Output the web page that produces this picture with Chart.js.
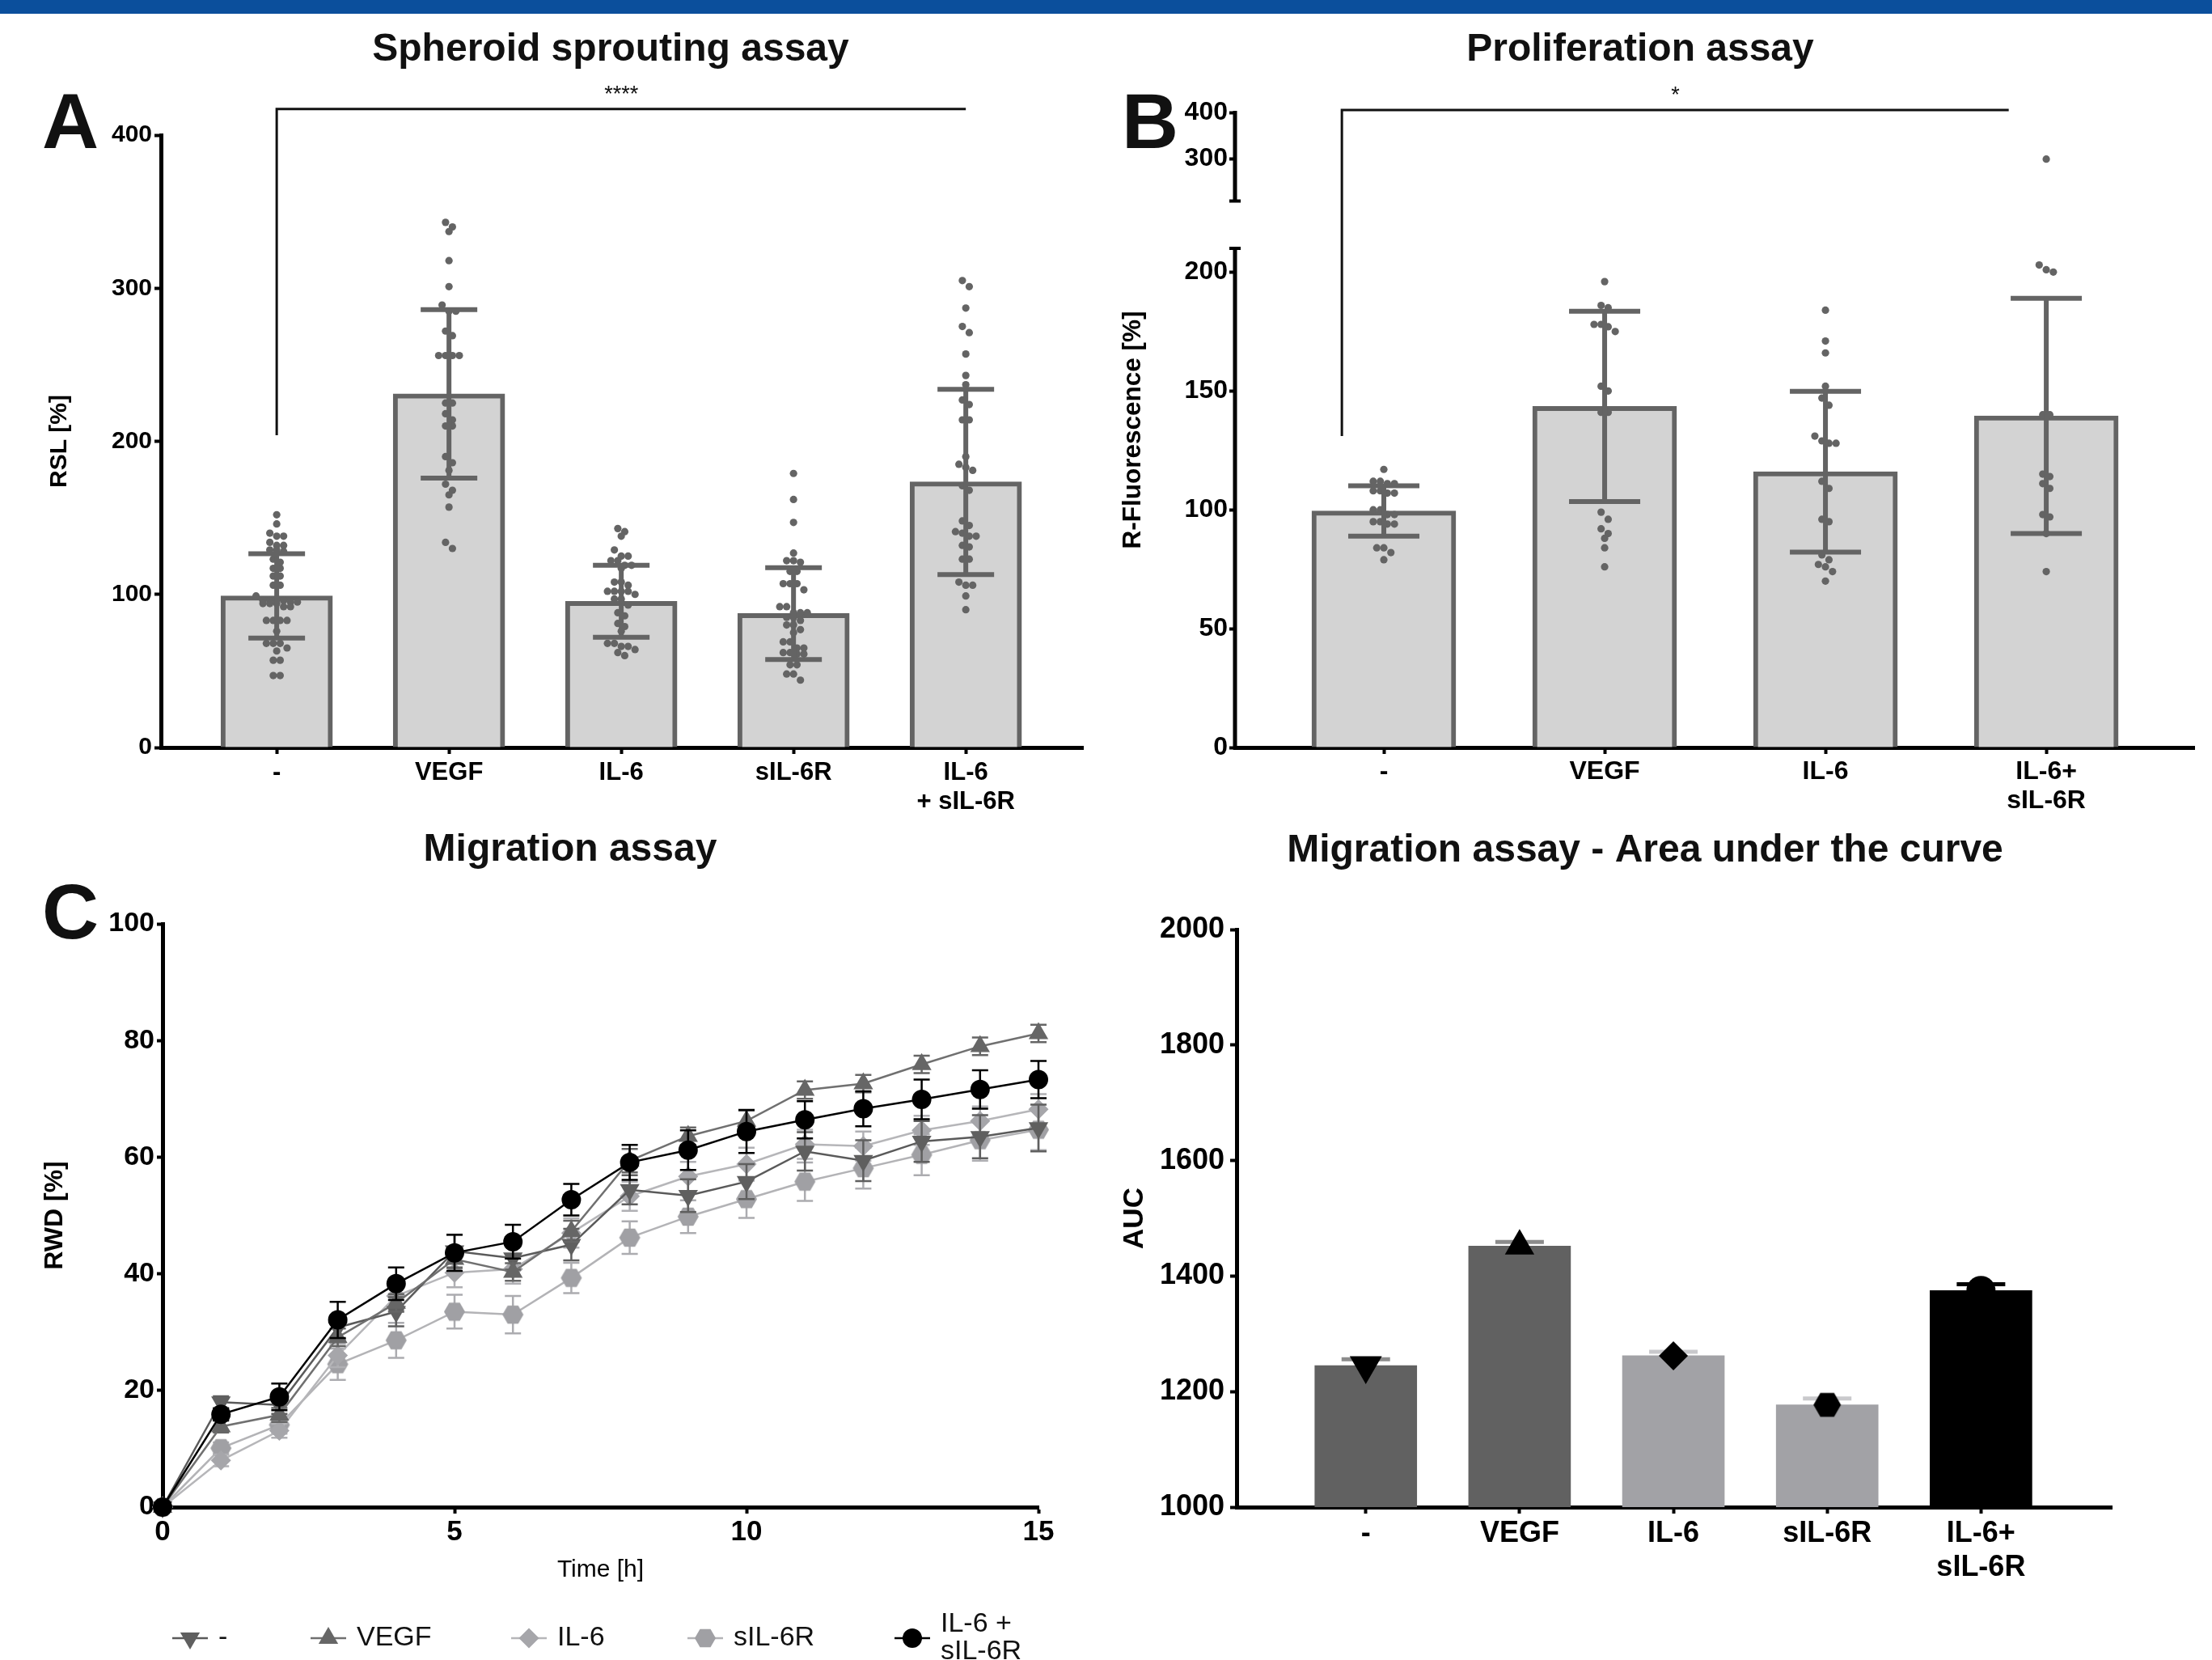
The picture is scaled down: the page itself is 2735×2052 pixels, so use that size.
<!DOCTYPE html>
<html>
<head>
<meta charset="utf-8">
<title>Spheroid sprouting, proliferation and migration assays</title>
<script src="https://cdn.jsdelivr.net/npm/chart.js@4.4.1/dist/chart.umd.min.js"></script>
<style>
  html, body { margin: 0; padding: 0; background: #fff; }
  body { width: 2735px; height: 2052px; position: relative; overflow: hidden; }
  #banner { position: absolute; left: 0; top: 0; width: 2735px; height: 17px; background: #0b4f9c; }
  canvas { position: absolute; }
</style>
</head>
<body>
<div id="banner"></div>
<canvas id="chartA" width="1370" height="1030" style="left:0;top:0"></canvas>
<canvas id="chartB" width="1365" height="1030" style="left:1370px;top:0"></canvas>
<canvas id="chartC" width="1370" height="1022" style="left:0;top:1030px"></canvas>
<canvas id="chartD" width="1365" height="1022" style="left:1370px;top:1030px"></canvas>
<script>
// ---------- data ----------
// A: spheroid sprouting (RSL %)
const catsA = ['-', 'VEGF', 'IL-6', 'sIL-6R', ['IL-6', '+ sIL-6R']];
const meanA = [99, 231, 95.5, 87.5, 173.5];
const sdA = [27.5, 55, 23.5, 30, 60.5];
const rslCtrl = [152, 146, 140, 138, 138, 134, 132, 132, 129, 129, 128, 123, 121, 117, 117, 112, 112, 106, 106, 99, 96, 96, 96, 96, 95, 95, 94, 94, 94, 92, 92, 83, 83, 83, 83, 76, 68, 68, 68, 65, 63, 57, 57, 47, 47];
const rslVEGF = [343, 340, 337, 318, 301, 289, 285, 285, 272, 269, 256, 256, 256, 256, 225, 225, 218, 214, 210, 210, 190, 186, 181, 172, 168, 165, 157, 134, 130];
const rslIL6 = [143, 141, 138, 129, 125, 125, 122, 122, 119, 119, 117, 108, 108, 106, 102, 102, 102, 102, 100, 97, 97, 93, 88, 86, 81, 79, 76, 68, 68, 66, 66, 64, 62, 60];
const rslSIL6R = [179, 162, 147, 127, 122, 122, 121, 115, 115, 107, 107, 107, 103, 92, 92, 88, 88, 88, 85, 85, 83, 80, 80, 77, 75, 69, 69, 65, 65, 62, 62, 61, 61, 54, 54, 48, 48, 44];
const rslCombo = [305, 301, 287, 275, 271, 257, 243, 237, 227, 224, 214, 214, 190, 185, 183, 181, 171, 168, 148, 145, 141, 140, 138, 138, 132, 131, 123, 123, 108, 106, 106, 99, 90];

// B: proliferation (R-Fluorescence %)
const catsB = ['-', 'VEGF', 'IL-6', ['IL-6+', 'sIL-6R']];
const meanB = [99.5, 143.5, 116, 139.5];
const sdB = [10.6, 40, 33.8, 49.5];
const fluoCtrl = [117, 112, 112, 111, 111, 108, 108, 107, 107, 100, 100, 98, 98, 95, 95, 94, 94, 84, 84, 82, 79];
const fluoVEGF = [196, 186, 185, 178, 178, 177, 175, 152, 150, 141, 141, 99, 96, 92, 90, 88, 84, 76];
const fluoIL6 = [184, 171, 166, 152, 147, 144, 131, 129, 128, 128, 112, 109, 96, 95, 81, 79, 77, 76, 74, 70];
const fluoCombo = [300, 203, 201, 200, 140, 140, 115, 114, 111, 109, 98, 97, 90, 74];

// C: migration (RWD %) over time
const timeH = [0, 1, 2, 3, 4, 5, 6, 7, 8, 9, 10, 11, 12, 13, 14, 15];
const migCtrl = [0, 18.0, 17.5, 30.8, 33.5, 43.9, 42.7, 45.0, 54.4, 53.4, 55.8, 61.0, 59.4, 62.7, 63.5, 65.0];
const migVEGF = [0, 13.8, 15.8, 29.1, 35.0, 42.5, 40.3, 47.3, 59.4, 63.6, 66.2, 71.5, 72.6, 75.9, 79.0, 81.2];
const migIL6 = [0, 8.0, 13.1, 26.0, 36.2, 40.2, 40.8, 47.0, 53.3, 56.7, 58.8, 62.2, 61.9, 64.6, 66.2, 68.2];
const migSIL6R = [0, 10.1, 14.1, 24.5, 28.6, 33.5, 33.0, 39.3, 46.2, 49.8, 52.8, 55.8, 58.1, 60.4, 62.9, 64.7];
const migCombo = [0, 15.9, 18.9, 32.1, 38.3, 43.6, 45.5, 52.7, 59.1, 61.2, 64.4, 66.4, 68.3, 69.9, 71.6, 73.3];
const semCtrl = [0, 1.0, 1.5, 2.0, 2.5, 2.8, 2.0, 2.7, 2.5, 2.8, 3.0, 3.3, 3.5, 3.5, 3.7, 4.0];
const semVEGF = [0, 1.0, 1.2, 1.5, 1.5, 1.5, 1.5, 1.8, 2.0, 1.5, 1.8, 1.5, 1.5, 1.5, 1.5, 1.5];
const semIL6 = [0, 1.0, 1.2, 2.0, 2.5, 2.5, 2.5, 2.5, 2.5, 2.5, 2.8, 2.5, 2.5, 2.5, 2.5, 2.6];
const semSIL6R = [0, 1.0, 1.5, 2.7, 3.0, 2.9, 3.2, 2.6, 2.8, 2.8, 3.2, 3.3, 3.5, 3.5, 3.5, 3.5];
const semCombo = [0, 1.0, 2.3, 3.1, 2.8, 3.1, 2.9, 2.7, 3.0, 3.4, 3.7, 3.2, 3.0, 3.4, 3.3, 3.2];

// D: area under the migration curve
const catsD = ['-', 'VEGF', 'IL-6', 'sIL-6R', ['IL-6+', 'sIL-6R']];
const aucD = [1245, 1452, 1262, 1177, 1375];
const semD = [11, 7, 7, 11, 11];

// ---------- helpers ----------
const FONT = "'Liberation Sans', Arial, Helvetica, sans-serif";

// spread dots of similar value sideways (scatter dot plot)
function swarm(values, center, tol, step) {
  const sorted = values.slice().sort((a, b) => b - a);
  const out = [];
  let row = [];
  const flush = () => {
    row.forEach((v, k) => out.push({ x: center + (k - (row.length - 1) / 2) * step, y: v }));
    row = [];
  };
  sorted.forEach(v => {
    if (row.length && row[0] - v > tol) flush();
    row.push(v);
  });
  flush();
  return out;
}

function hexagon(r, color) {
  const c = document.createElement('canvas');
  c.width = c.height = 2 * r + 2;
  const g = c.getContext('2d');
  g.fillStyle = color;
  g.beginPath();
  for (let k = 0; k < 6; k++) {
    const a = k * Math.PI / 3;
    g.lineTo(r + 1 + r * Math.cos(a), r + 1 + r * Math.sin(a));
  }
  g.closePath();
  g.fill();
  return c;
}

function axis(o) {
  const ticks = {
    color: '#000',
    font: { family: FONT, size: o.size, weight: 'bold', lineHeight: o.lh || 1.15 },
    padding: o.pad, autoSkip: false, maxRotation: 0, minRotation: 0,
    callback: o.callback || (v => String(v))
  };
  if (o.step) ticks.stepSize = o.step;
  const a = {
    min: o.min, max: o.max, offset: false,
    border: { display: o.border !== false, color: '#000', width: 5 },
    grid: { display: true, drawOnChartArea: false, drawTicks: true, tickLength: o.tick || 8, tickWidth: 4, tickColor: '#000', offset: false },
    ticks: ticks
  };
  if (o.type) a.type = o.type;
  if (o.fixed) a.afterBuildTicks = s => { s.ticks = o.fixed.map(v => ({ value: v })); };
  if (o.width) a.afterFit = s => { s.width = o.width; };
  if (o.height) a.afterFit = s => { s.height = o.height; };
  if (o.title) a.title = { display: true, text: o.title, color: '#000', font: { family: FONT, size: o.titleSize, weight: o.titleWeight || 'bold' }, padding: o.titlePad };
  return a;
}

// y axis with a gap (panel B)
class BrokenScale extends Chart.LinearScale {
  _frac(v) {
    const b = this.options.brk;
    if (v <= b.at) return (v - this.min) / (b.at - this.min) * b.lowFrac;
    return b.highFrac + (v - b.at) / (this.max - b.at) * (1 - b.highFrac);
  }
  getPixelForValue(v) { return this.getPixelForDecimal(this._frac(v)); }
  getValueForPixel(p) {
    const b = this.options.brk, f = this.getDecimalForPixel(p);
    if (f <= b.lowFrac) return this.min + f / b.lowFrac * (b.at - this.min);
    return b.at + (f - b.highFrac) / (1 - b.highFrac) * (this.max - b.at);
  }
}
BrokenScale.id = 'broken';
BrokenScale.defaults = Chart.LinearScale.defaults;
Chart.register(BrokenScale);

function drawErr(chart, index, phase) {
  const ds = chart.data.datasets[index];
  const e = ds.err;
  if (!e || e.phase !== phase) return;
  const meta = chart.getDatasetMeta(index);
  const ys = chart.scales[meta.yAxisID];
  const ctx = chart.ctx;
  ctx.save();
  ctx.lineWidth = e.width;
  meta.data.forEach((el, i) => {
    const v = meta.controller.getParsed(i).y, d = e.values[i];
    if (!d) return;
    const hi = ys.getPixelForValue(v + d);
    const lo = ys.getPixelForValue(e.up ? v : v - d);
    ctx.strokeStyle = Array.isArray(e.color) ? e.color[i] : e.color;
    ctx.beginPath();
    ctx.moveTo(el.x, lo); ctx.lineTo(el.x, hi);
    ctx.moveTo(el.x - e.cap, hi); ctx.lineTo(el.x + e.cap, hi);
    if (!e.up) { ctx.moveTo(el.x - e.cap, lo); ctx.lineTo(el.x + e.cap, lo); }
    ctx.stroke();
  });
  ctx.restore();
}

const errorBars = {
  id: 'errorBars',
  beforeDatasetDraw(chart, args) { drawErr(chart, args.index, 'before'); },
  afterDatasetDraw(chart, args) { drawErr(chart, args.index, 'after'); },
  afterDatasetsDraw(chart) { chart.data.datasets.forEach((d, i) => drawErr(chart, i, 'top')); }
};

const bracket = {
  id: 'bracket',
  afterDraw(chart, args, o) {
    if (o.x0 === undefined) return;
    const x = chart.scales.x, y = chart.scales.y, ctx = chart.ctx;
    const xl = x.getPixelForValue(o.x0), xr = x.getPixelForValue(o.x1);
    const yl = y.getPixelForValue(o.yLow), yt = y.getPixelForValue(o.yTop);
    ctx.save();
    ctx.strokeStyle = '#111';
    ctx.lineWidth = 3;
    ctx.beginPath();
    ctx.moveTo(xl, yl); ctx.lineTo(xl, yt); ctx.lineTo(xr, yt);
    ctx.stroke();
    ctx.fillStyle = '#111';
    ctx.font = '27px ' + FONT;
    ctx.textAlign = 'center';
    ctx.textBaseline = 'alphabetic';
    ctx.fillText(o.text, (xl + xr) / 2, yt - 10);
    ctx.restore();
  }
};

const brokenAxis = {
  id: 'brokenAxis',
  afterDraw(chart) {
    const y = chart.scales.y;
    if (y.type !== 'broken') return;
    const b = y.options.brk, ctx = chart.ctx, x = chart.chartArea.left;
    const lowTop = y.getPixelForDecimal(b.lowFrac), highBot = y.getPixelForDecimal(b.highFrac);
    ctx.save();
    ctx.strokeStyle = '#000';
    ctx.lineWidth = 5;
    ctx.beginPath();
    ctx.moveTo(x, y.bottom + 2.5); ctx.lineTo(x, lowTop);
    ctx.moveTo(x, highBot); ctx.lineTo(x, y.top - 2);
    ctx.stroke();
    ctx.lineWidth = 4;
    ctx.beginPath();
    ctx.moveTo(x - 7, lowTop); ctx.lineTo(x + 7, lowTop);
    ctx.moveTo(x - 7, highBot); ctx.lineTo(x + 7, highBot);
    ctx.stroke();
    ctx.restore();
  }
};

const panelText = {
  id: 'panelText',
  afterDraw(chart, args, o) {
    const ctx = chart.ctx;
    (o.items || []).forEach(t => {
      ctx.save();
      ctx.fillStyle = '#111';
      ctx.font = 'bold ' + t.size + 'px ' + FONT;
      ctx.textAlign = t.align;
      ctx.textBaseline = 'alphabetic';
      ctx.fillText(t.text, t.x, t.y);
      ctx.restore();
    });
  }
};

const lineLegend = {
  id: 'lineLegend',
  afterDraw(chart, args, o) {
    if (!o.xs) return;
    const ctx = chart.ctx;
    chart.data.datasets.forEach((ds, i) => {
      const mx = o.xs[i], my = o.y;
      ctx.save();
      ctx.strokeStyle = ds.borderColor;
      ctx.lineWidth = ds.borderWidth;
      ctx.beginPath(); ctx.moveTo(mx - 22, my); ctx.lineTo(mx + 22, my); ctx.stroke();
      ctx.fillStyle = ds.pointBackgroundColor;
      Chart.helpers.drawPoint(ctx, { pointStyle: ds.pointStyle, rotation: ds.pointRotation || 0, radius: ds.pointRadius, borderWidth: 0 }, mx, my);
      ctx.fillStyle = '#111';
      ctx.font = '34px ' + FONT;
      ctx.textAlign = 'left';
      ctx.textBaseline = 'middle';
      const lines = [].concat(ds.legendText || ds.label);
      lines.forEach((t, k) => ctx.fillText(t, mx + 35, my + (k - (lines.length - 1) / 2) * 34));
      ctx.restore();
    });
  }
};

const base = { responsive: false, animation: false, devicePixelRatio: 1, events: [] };
const quiet = { legend: { display: false }, tooltip: { enabled: false } };

// ---------- A ----------
const dotsA = [rslCtrl, rslVEGF, rslIL6, rslSIL6R, rslCombo];
new Chart(document.getElementById('chartA'), {
  type: 'bar',
  data: {
    datasets: [
      { type: 'bar', data: meanA.map((m, i) => ({ x: i, y: m })), backgroundColor: '#d3d3d3', borderColor: '#646464', borderWidth: 6, barThickness: 138, order: 3,
        err: { values: sdA, color: '#646464', width: 6, cap: 35, phase: 'top' } },
      { type: 'scatter', data: dotsA.flatMap((g, i) => swarm(g, i, 4.8, 0.04)), pointRadius: 4.6, pointBackgroundColor: '#646464', pointBorderWidth: 0, order: 2 }
    ]
  },
  options: Object.assign({}, base, {
    layout: { padding: { left: 0, top: 167, right: 31, bottom: 6 } },
    plugins: Object.assign({}, quiet, {
      bracket: { x0: 0, x1: 4, yLow: 204, yTop: 417, text: '****' },
      panelText: { items: [
        { text: 'Spheroid sprouting assay', x: 755, y: 75, size: 48, align: 'center' },
        { text: 'A', x: 52, y: 183, size: 97, align: 'left' }
      ] }
    }),
    scales: {
      x: axis({ type: 'linear', min: -0.672, max: 4.68, size: 31, lh: 1.15, pad: 6, fixed: [0, 1, 2, 3, 4], callback: v => catsA[v], height: 100 }),
      y: axis({ min: 0, max: 400, step: 100, size: 30, pad: 3, width: 199, title: 'RSL [%]', titleSize: 30, titlePad: { top: 56, bottom: 0 } })
    }
  }),
  plugins: [errorBars, bracket, panelText]
});

// ---------- B ----------
const dotsB = [fluoCtrl, fluoVEGF, fluoIL6, fluoCombo];
const yB = axis({ type: 'broken', min: 0, max: 400, size: 32, pad: 2, tick: 7, border: false, fixed: [0, 50, 100, 150, 200, 300, 400], width: 157,
  title: 'R-Fluorescence [%]', titleSize: 31.5, titlePad: { top: 12, bottom: 0 } });
yB.brk = { at: 210, lowFrac: 0.786, highFrac: 0.8605 };
new Chart(document.getElementById('chartB'), {
  type: 'bar',
  data: {
    datasets: [
      { type: 'bar', data: meanB.map((m, i) => ({ x: i, y: m })), backgroundColor: '#d3d3d3', borderColor: '#646464', borderWidth: 6, barThickness: 178, order: 3,
        err: { values: sdB, color: '#646464', width: 6, cap: 44, phase: 'top' } },
      { type: 'scatter', data: dotsB.flatMap((g, i) => swarm(g, i, 3, 0.032)), pointRadius: 4.6, pointBackgroundColor: '#646464', pointBorderWidth: 0, order: 2 }
    ]
  },
  options: Object.assign({}, base, {
    layout: { padding: { left: 0, top: 139, right: 22, bottom: 6 } },
    plugins: Object.assign({}, quiet, {
      bracket: { x0: -0.19, x1: 2.83, yLow: 131, yTop: 405, text: '*' },
      panelText: { items: [
        { text: 'Proliferation assay', x: 658, y: 75, size: 48, align: 'center' },
        { text: 'B', x: 17, y: 183, size: 97, align: 'left' }
      ] }
    }),
    scales: {
      x: axis({ type: 'linear', min: -0.674, max: 3.67, size: 32, lh: 1.12, pad: 4, fixed: [0, 1, 2, 3], callback: v => catsB[v], height: 100 }),
      y: yB
    }
  }),
  plugins: [errorBars, bracket, brokenAxis, panelText]
});

// ---------- C ----------
const hexC = hexagon(13, '#a0a0a4');
const series = [
  { label: '-', values: migCtrl, sem: semCtrl, line: '#5a5a5a', mark: '#5f5f5f', err: '#5f5f5f', style: 'triangle', rot: 180, r: 14, order: 3 },
  { label: 'VEGF', values: migVEGF, sem: semVEGF, line: '#707070', mark: '#666666', err: '#666666', style: 'triangle', rot: 0, r: 14, order: 2 },
  { label: 'IL-6', values: migIL6, sem: semIL6, line: '#b6b6b9', mark: '#a6a6aa', err: '#b0b0b4', style: 'rectRot', rot: 0, r: 12.5, order: 4 },
  { label: 'sIL-6R', values: migSIL6R, sem: semSIL6R, line: '#b3b3b6', mark: '#a0a0a4', err: '#acacb0', style: hexC, rot: 0, r: 13, order: 5 },
  { label: 'IL-6 + sIL-6R', text: ['IL-6 +', 'sIL-6R'], values: migCombo, sem: semCombo, line: '#000', mark: '#000', err: '#000', style: 'circle', rot: 0, r: 12, order: 1 }
];
new Chart(document.getElementById('chartC'), {
  type: 'line',
  data: {
    datasets: series.map(s => ({
      label: s.label, legendText: s.text,
      data: timeH.map((t, i) => ({ x: t, y: s.values[i] })),
      borderColor: s.line, borderWidth: 2.5,
      pointStyle: s.style, pointRotation: s.rot, pointRadius: s.r,
      pointBackgroundColor: s.mark, pointBorderColor: s.mark, pointBorderWidth: 0,
      clip: false, order: s.order,
      err: { values: s.sem, color: s.err, width: 2.5, cap: 10, phase: 'before' }
    }))
  },
  options: Object.assign({}, base, {
    layout: { padding: { left: 0, top: 112, right: 86, bottom: 69 } },
    plugins: Object.assign({}, quiet, {
      lineLegend: { xs: [235, 406, 654, 872, 1128], y: 995 },
      panelText: { items: [
        { text: 'Migration assay', x: 705, y: 34, size: 48, align: 'center' },
        { text: 'C', x: 52, y: 130, size: 97, align: 'left' }
      ] }
    }),
    scales: {
      x: axis({ type: 'linear', min: 0, max: 15, step: 5, size: 35, lh: 1.2, pad: 2, tick: 8, height: 120,
        title: 'Time [h]', titleSize: 30, titleWeight: 'normal', titlePad: { top: 0, bottom: 24 } }),
      y: axis({ min: 0, max: 100, step: 20, size: 34, pad: 3, tick: 7, width: 201, title: 'RWD [%]', titleSize: 32, titlePad: { top: 49, bottom: 0 } })
    }
  }),
  plugins: [errorBars, lineLegend, panelText]
});

// ---------- D ----------
const hexD = hexagon(17, '#000');
new Chart(document.getElementById('chartD'), {
  type: 'bar',
  data: {
    datasets: [
      { type: 'bar', data: aucD.map((v, i) => ({ x: i, y: v })), backgroundColor: ['#616161', '#616161', '#a2a2a6', '#a2a2a6', '#000'], borderWidth: 0, barThickness: 126, order: 2,
        err: { values: semD, color: ['#8c8c8c', '#8c8c8c', '#c9c9cc', '#c9c9cc', '#000'], width: 5, cap: 30, up: true, phase: 'after' } },
      { type: 'scatter', data: aucD.map((v, i) => ({ x: i, y: v })), pointStyle: ['triangle', 'triangle', 'rectRot', hexD, 'circle'], pointRotation: [180, 0, 0, 0, 0],
        pointRadius: [23, 21, 18, 17, 18], pointBackgroundColor: '#000', pointBorderWidth: 0, clip: false, order: 1 }
    ]
  },
  options: Object.assign({}, base, {
    layout: { padding: { left: 0, top: 119, right: 124, bottom: 79 } },
    plugins: Object.assign({}, quiet, {
      panelText: { items: [
        { text: 'Migration assay - Area under the curve', x: 664, y: 35, size: 48, align: 'center' }
      ] }
    }),
    scales: {
      x: axis({ type: 'linear', min: -0.84, max: 4.85, size: 36, lh: 1.16, pad: 4, fixed: [0, 1, 2, 3, 4], callback: v => catsD[v], height: 110 }),
      y: axis({ min: 1000, max: 2000, step: 200, size: 36, pad: 7, width: 159, title: 'AUC', titleSize: 35, titlePad: { top: 12, bottom: 0 } })
    }
  }),
  plugins: [errorBars, panelText]
});
</script>
</body>
</html>
